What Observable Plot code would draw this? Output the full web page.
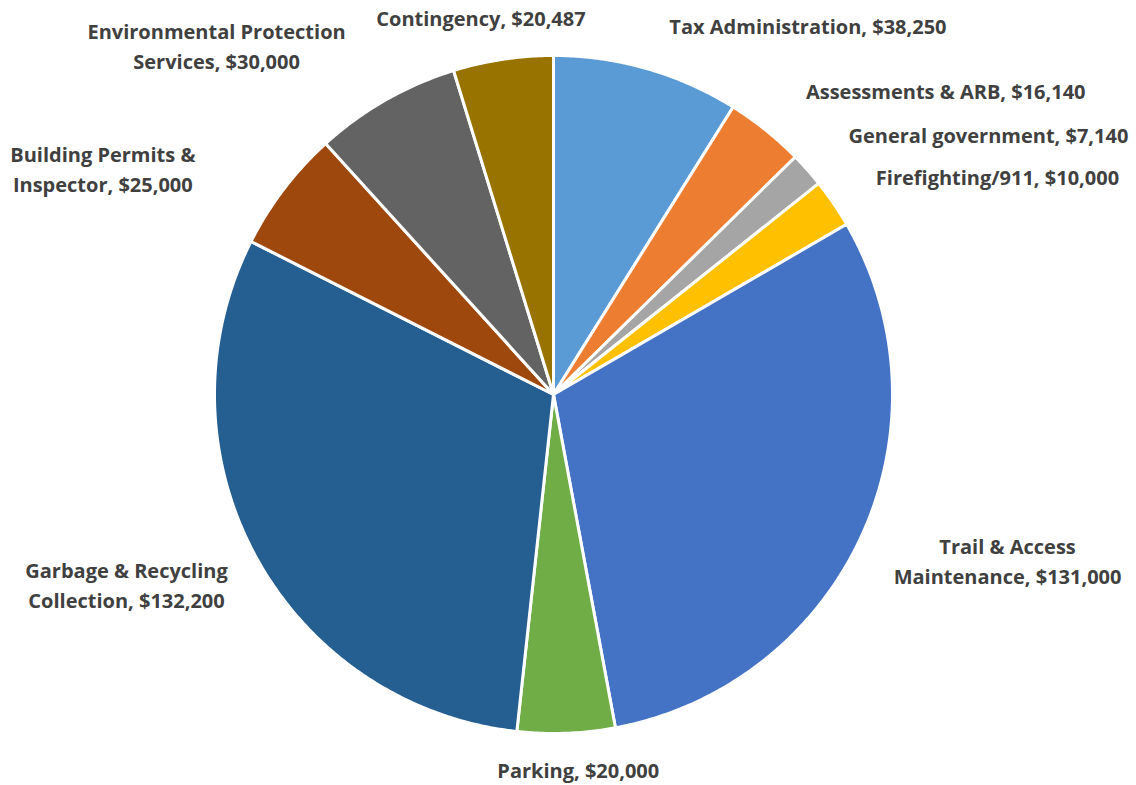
<!DOCTYPE html>
<html>
<head>
<meta charset="utf-8">
<script src="https://cdn.jsdelivr.net/npm/d3@7"></script>
<script src="https://cdn.jsdelivr.net/npm/@observablehq/plot@0.6"></script>
<style>
  html, body { margin: 0; padding: 0; background: #fff; }
  #chart { width: 1136px; height: 785px; }
</style>
</head>
<body>
<div id="chart"></div>
<script>
// ---- data ----
const categories = [
  "Tax Administration", "Assessments & ARB", "General government", "Firefighting/911",
  "Trail & Access Maintenance", "Parking", "Garbage & Recycling Collection",
  "Building Permits & Inspector", "Environmental Protection Services", "Contingency"
];
const amounts = [38250, 16140, 7140, 10000, 131000, 20000, 132200, 25000, 30000, 20487];
const labelTexts = [
  "Tax Administration, $38,250",
  "Assessments & ARB, $16,140",
  "General government, $7,140",
  "Firefighting/911, $10,000",
  "Trail & Access\nMaintenance, $131,000",
  "Parking, $20,000",
  "Garbage & Recycling\nCollection, $132,200",
  "Building Permits &\nInspector, $25,000",
  "Environmental Protection\nServices, $30,000",
  "Contingency, $20,487"
];
const sliceColors = ["#5B9BD5", "#ED7D31", "#A5A5A5", "#FFC000", "#4472C4",
                     "#70AD47", "#255E91", "#9E480E", "#636363", "#997300"];
// label nudges in pixels from the slice's outer mid-point (layout only)
const labelDx = [161, 180, 181, 164, 146, 12, -129, -181, -169, -22];
const labelDy = [-44, -41, -36, -28, 23, 35, 27, -22, -56, -43];

// ---- layout via d3.pie ----
const arcs = d3.pie().sort(null).value(d => d)(amounts);
const polys = [];
const labels = [];
arcs.forEach((a, i) => {
  const cat = categories[i];
  const steps = Math.max(2, Math.ceil((a.endAngle - a.startAngle) / (Math.PI / 360)));
  polys.push({cat, x: 0, y: 0});
  for (let k = 0; k <= steps; k++) {
    const t = a.startAngle + (a.endAngle - a.startAngle) * k / steps;
    polys.push({cat, x: Math.sin(t), y: Math.cos(t)});
  }
  polys.push({cat, x: 0, y: 0});
  const m = (a.startAngle + a.endAngle) / 2;
  labels.push({cat, x: Math.sin(m), y: Math.cos(m), text: labelTexts[i], dx: labelDx[i], dy: labelDy[i]});
});

const cx = 553, cy = 394, R = 339;
const chart = Plot.plot({
  width: 1136,
  height: 785,
  margin: 0,
  x: {domain: [-1, 1], range: [cx - R, cx + R], axis: null},
  y: {domain: [-1, 1], range: [cy + R, cy - R], axis: null},
  color: {domain: categories, range: sliceColors},
  style: {background: "#fff"},
  marks: [
    Plot.line(polys, {x: "x", y: "y", z: "cat", fill: "cat", stroke: "#fff",
      strokeWidth: 3, strokeLinejoin: "round", curve: "linear"}),
    ...labels.map(l => Plot.text([l], {
      x: "x", y: "y", text: "text", dx: l.dx, dy: l.dy,
      fill: "#404040", fontSize: 20, fontWeight: "bold",
      fontFamily: "'Open Sans', Lato, sans-serif",
      textAnchor: "middle", lineAnchor: "middle", lineHeight: 1.5
    }))
  ]
});
document.getElementById("chart").appendChild(chart);
</script>
</body>
</html>
